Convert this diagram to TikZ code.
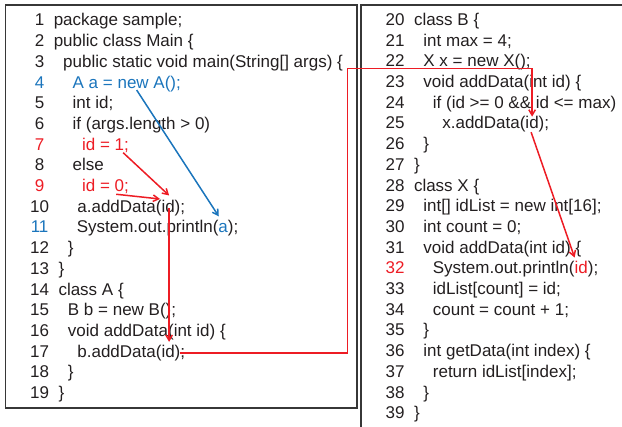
\documentclass[tikz,border=0pt]{standalone}
\usepackage{fontspec}
\setmainfont{Liberation Sans}
\usetikzlibrary{arrows.meta}
\definecolor{cred}{RGB}{237,28,36}
\definecolor{cblue}{RGB}{27,117,188}
\definecolor{ctext}{RGB}{35,31,32}
\definecolor{cframe}{RGB}{55,55,55}
\newcommand\Lcl[4]{%
  \pgfmathsetmacro\yy{26+(#1-1)*20.7}%
  \node[num] (n#1) at (39.6pt,-\yy pt) {#3};%
  \node[code,xshift={(2+2*#2)*4.723pt}] (c#1) at (n#1.base east) {#4};}
\newcommand\Rcl[4]{%
  \pgfmathsetmacro\yy{25.5+(#1-20)*20.7}%
  \node[num] (n#1) at (395.1pt,-\yy pt) {#3};%
  \node[code,xshift={(2+2*#2)*4.723pt}] (c#1) at (n#1.base east) {#4};}
\tikzset{
  num/.style={anchor=base, inner sep=0pt, outer sep=0pt, text=ctext, font=\fontsize{17}{20}\selectfont},
  code/.style={anchor=base west, inner sep=0pt, outer sep=0pt, text=ctext, font=\fontsize{17}{20}\selectfont},
  tok/.style={code},
  frame/.style={draw=cframe, line width=1.6pt},
  link/.style={line width=1.5pt, -{Straight Barb[length=5.5pt,width=6.5pt]}},
  redlink/.style={link, draw=cred},
  bluelink/.style={link, draw=cblue},
}
\begin{document}
\begin{tikzpicture}
\useasboundingbox (0pt,0pt) rectangle (622pt,-427pt);
% frames
\draw[frame] (5.5pt,-5pt) rectangle (357pt,-408pt);
\draw[frame] (361pt,-427pt) -- (361pt,-5pt) -- (622pt,-5pt);
% left column
\Lcl{1}{0}{1}{package sample;}
\Lcl{2}{0}{2}{public class Main \{}
\Lcl{3}{1}{3}{public static void main(String[] args) \{}
\Lcl{4}{2}{\textcolor{cblue}{4}}{\textcolor{cblue}{A a =\ }}
\node[tok] (w4) at (c4.base east) {\textcolor{cblue}{new}};
\node[tok] (w4b) at (w4.base east) {\textcolor{cblue}{\ A();}};
\Lcl{5}{2}{5}{int id;}
\Lcl{6}{2}{6}{if (args.length > 0)}
\Lcl{7}{3}{\textcolor{cred}{7}}{\textcolor{cred}{id =\ }}
\node[tok] (one7) at (c7.base east) {\textcolor{cred}{1}};
\node[tok] (one7b) at (one7.base east) {\textcolor{cred}{;}};
\Lcl{8}{2}{8}{else}
\Lcl{9}{3}{\textcolor{cred}{9}}{\textcolor{cred}{id =\ }}
\node[tok] (zero9) at (c9.base east) {\textcolor{cred}{0}};
\node[tok] (zero9b) at (zero9.base east) {\textcolor{cred}{;}};
\Lcl{10}{2}{10}{a.addData(}
\node[tok] (id10) at (c10.base east) {id};
\node[tok] (id10b) at (id10.base east) {);};
\Lcl{11}{2}{\textcolor{cblue}{11}}{System.out.println(}
\node[tok] (a11) at (c11.base east) {\textcolor{cblue}{a}};
\node[tok] (a11b) at (a11.base east) {);};
\Lcl{12}{1}{12}{\}}
\Lcl{13}{0}{13}{\}}
\Lcl{14}{0}{14}{class A \{}
\Lcl{15}{1}{15}{B b = new B();}
\Lcl{16}{1}{16}{void addData(int id) \{}
\Lcl{17}{2}{17}{b.addData(}
\node[tok] (id17) at (c17.base east) {id};
\node[tok] (p17) at (id17.base east) {)};
\node[tok] (p17b) at (p17.base east) {;};
\Lcl{18}{1}{18}{\}}
\Lcl{19}{0}{19}{\}}
% right column
\Rcl{20}{0}{20}{class B \{}
\Rcl{21}{1}{21}{int max = 4;}
\Rcl{22}{1}{22}{X x = new X();}
\Rcl{23}{1}{23}{void addData(int id) \{}
\Rcl{24}{2}{24}{if (id >= 0 \&\& id <= max)}
\Rcl{25}{3}{25}{x.addData(}
\node[tok] (id25) at (c25.base east) {id};
\node[tok] (id25b) at (id25.base east) {);};
\Rcl{26}{1}{26}{\}}
\Rcl{27}{0}{27}{\}}
\Rcl{28}{0}{28}{class X \{}
\Rcl{29}{1}{29}{int[] idList = new int[16];}
\Rcl{30}{1}{30}{int count = 0;}
\Rcl{31}{1}{31}{void addData(int id) \{}
\Rcl{32}{2}{\textcolor{cred}{32}}{System.out.println(}
\node[tok] (id32) at (c32.base east) {\textcolor{cred}{id}};
\node[tok] (id32b) at (id32.base east) {);};
\Rcl{33}{2}{33}{idList[count] = id;}
\Rcl{34}{2}{34}{count = count + 1;}
\Rcl{35}{1}{35}{\}}
\Rcl{36}{1}{36}{int getData(int index) \{}
\Rcl{37}{2}{37}{return idList[index];}
\Rcl{38}{1}{38}{\}}
\Rcl{39}{0}{39}{\}}
% connectors
\draw[bluelink] ([shift={(3.5pt,-1.75pt)}]w4.south) -- ([shift={(0.3pt,7.5pt)}]a11.north west);
\draw[redlink] ([shift={(-1pt,-2.5pt)}]one7.south east) -- ([shift={(1pt,4.5pt)}]id10.north);
\draw[redlink] ([shift={(1.5pt,-2.5pt)}]zero9.south west) -- ([shift={(-1.5pt,1pt)}]id10.north west);
\coordinate (s4) at ([shift={(1pt,4pt)}]id10.south);
\coordinate (e4) at ([yshift=3pt]id17.north);
\draw[redlink] (s4) -- (s4 |- e4);
\coordinate (c1) at (347.7pt,-68.3pt);
\draw[redlink] (p17.east) -| (c1) -| (id25.north);
\draw[redlink] ([shift={(-1pt,-3pt)}]id25.south) -- ([shift={(0pt,4pt)}]id32.north west);
\end{tikzpicture}
\end{document}
